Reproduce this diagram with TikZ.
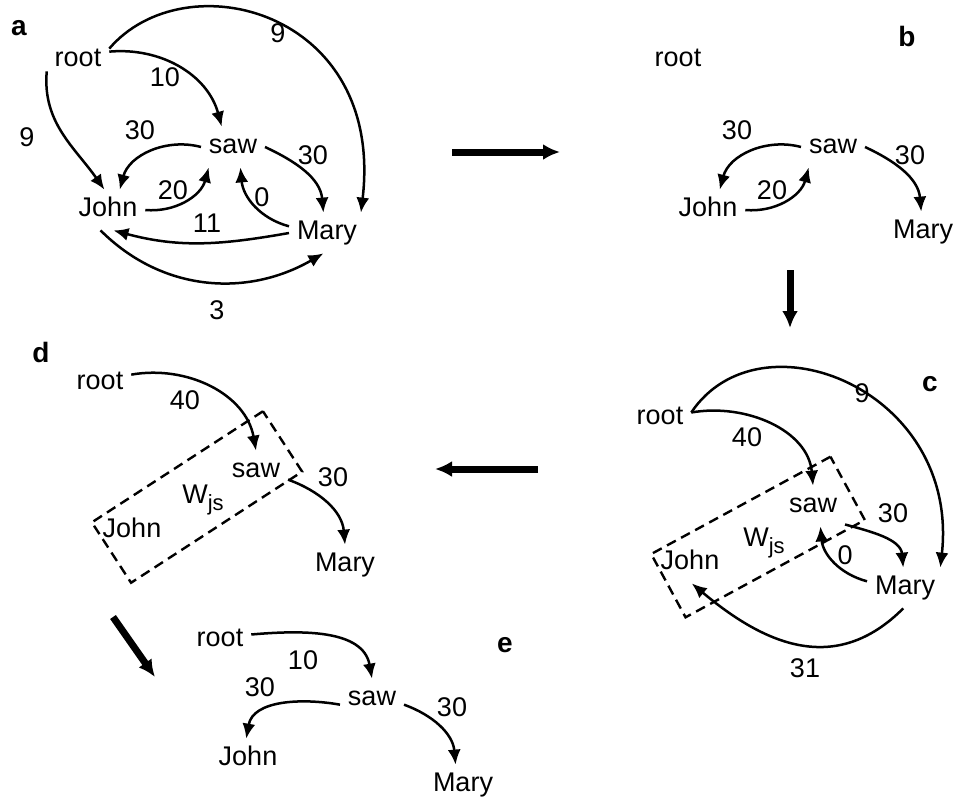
\documentclass[tikz,border=0pt]{standalone}
\usepackage{fontspec}
\setmainfont{Liberation Sans}
\usepackage{tikz}
\usetikzlibrary{arrows.meta}
\newcommand{\wjs}{W\raisebox{-0.55ex}{\fontsize{11}{11}\selectfont js}}
\tikzset{
  word/.style   = {font=\fontsize{13.5}{15}\selectfont, inner sep=1.5pt, outer sep=2.5pt, text height=9.6pt, text depth=2.8pt},
  weight/.style = {font=\fontsize{13.5}{15}\selectfont, inner sep=1pt},
  tag/.style    = {font=\fontsize{14}{15}\selectfont\bfseries, inner sep=0pt},
  dep/.style    = {->, line width=1.25pt},
  wspan/.style  = {draw, dash pattern=on 5pt off 3pt, line width=1.2pt, minimum width=102pt, minimum height=36pt, inner sep=0pt},
  bigstep/.style = {-{Latex[length=8.5pt,width=8pt]}, line width=3.5pt}
}

\begin{document}
\begin{tikzpicture}[x=0.5pt,y=-0.5pt,>={Latex[length=7.5pt,width=6.5pt]}]
  \useasboundingbox (0,0) rectangle (958,798);
  % a
  \node[tag] (tagA) at (19,28) {a};
  \node[word] (rootA) at (78,60) {root};
  \node[word] (sawA) at (233,147) {saw};
  \node[word] (johnA) at (108,210) {John};
  \node[word] (maryA) at (327,233) {Mary};
  \draw[dep] (rootA.15) to[out=5,in=105] (sawA.119);
  \draw[dep] (rootA.20) .. controls (185,-40) and (385,10) .. (maryA.31);
  \draw[dep] (rootA.200) to[out=265,in=125] (johnA.100);
  \draw[dep] (sawA.west) to[out=165,in=75] (johnA.60);
  \draw[dep] (johnA.east) to[out=-5,in=255] (sawA.220);
  \draw[dep] (maryA.170) to[out=165,in=275] (sawA.290);
  \draw[dep] (maryA.west) to[out=190,in=-15] (johnA.285);
  \draw[dep] (sawA.east) to[out=-25,in=95] (maryA.100);
  \draw[dep] (johnA.250) to[out=-45,in=210] (maryA.260);
  \node[weight] (wRootSawA) at (165,77) {10};
  \node[weight] (wRootMaryA) at (278,33) {9};
  \node[weight] (wRootJohnA) at (27,137) {9};
  \node[weight] (wSawJohnA) at (140,130) {30};
  \node[weight] (wJohnSawA) at (173,190) {20};
  \node[weight] (wMarySawA) at (262,197) {0};
  \node[weight] (wMaryJohnA) at (207,223) {11};
  \node[weight] (wSawMaryA) at (313,155) {30};
  \node[weight] (wJohnMaryA) at (217,310) {3};

  % b
  \node[tag] (tagB) at (907,36) {b};
  \node[word] (rootB) at (678,60) {root};
  \node[word] (sawB) at (833,147) {saw};
  \node[word] (johnB) at (708,210) {John};
  \node[word] (maryB) at (923,232) {Mary};
  \draw[dep] (sawB.west) to[out=165,in=75] (johnB.60);
  \draw[dep] (johnB.east) to[out=-5,in=255] (sawB.220);
  \draw[dep] (sawB.east) to[out=-25,in=95] (maryB.95);
  \node[weight] (wSawJohnB) at (737,130) {30};
  \node[weight] (wJohnSawB) at (772,190) {20};
  \node[weight] (wSawMaryB) at (910,155) {30};

  % c
  \node[tag] (tagC) at (930,384) {c};
  \node[word] (rootC) at (660,418) {root};
  \node[word] (sawC) at (813,506) {saw};
  \node[word] (johnC) at (690,563) {John};
  \node[word] (maryC) at (905,588) {Mary};
  \node[weight] (wjsC) at (764,543) {\wjs};
  \node[wspan, rotate=28.5] (spanC) at (758,537) {};
  \draw[dep] (rootC.10) to[out=10,in=95] (sawC.north);
  \draw[dep] (rootC.10) .. controls (760,310) and (960,390) .. (maryC.30);
  \draw[dep] (sawC.-30) to[out=-15,in=95] (maryC.95);
  \draw[dep] (maryC.170) to[out=165,in=275] (sawC.290);
  \draw[dep] (maryC.265) to[out=225,in=-40,looseness=1.15] (johnC.275);
  \node[weight] (wRootSawC) at (747,437) {40};
  \node[weight] (wRootMaryC) at (862,393) {9};
  \node[weight] (wSawMaryC) at (893,513) {30};
  \node[weight] (wMarySawC) at (845,555) {0};
  \node[weight] (wMaryJohnC) at (805,668) {31};

  % d
  \node[tag] (tagD) at (41,352) {d};
  \node[word] (rootD) at (100,383) {root};
  \node[word] (sawD) at (256,471) {saw};
  \node[word] (johnD) at (132,531) {John};
  \node[word] (maryD) at (345,565) {Mary};
  \node[weight] (wjsD) at (203,500) {\wjs};
  \node[wspan, rotate=33] (spanD) at (197,497) {};
  \draw[dep] (rootD.15) to[out=10,in=100] (sawD.north);
  \draw[dep] (sawD.-15) to[out=-20,in=95] (maryD.north);
  \node[weight] (wRootSawD) at (185,400) {40};
  \node[weight] (wSawMaryD) at (333,477) {30};

  % e
  \node[tag] (tagE) at (505,645) {e};
  \node[word] (rootE) at (220,640) {root};
  \node[word] (sawE) at (372,699) {saw};
  \node[word] (johnE) at (248,759) {John};
  \node[word] (maryE) at (463,785) {Mary};
  \draw[dep] (rootE.10) to[out=5,in=100] (sawE.north);
  \draw[dep] (sawE.190) to[out=170,in=80] (johnE.95);
  \draw[dep] (sawE.-10) to[out=-20,in=95] (maryE.110);
  \node[weight] (wRootSawE) at (303,660) {10};
  \node[weight] (wSawJohnE) at (260,687) {30};
  \node[weight] (wSawMaryE) at (452,707) {30};

  % steps between panels
  \coordinate (ab1) at (452,152);
  \coordinate (ab2) at (560,152);
  \coordinate (bc1) at (790,270);
  \coordinate (bc2) at (790,328);
  \coordinate (cd1) at (538,469);
  \coordinate (cd2) at (435,469);
  \coordinate (de1) at (113,617);
  \coordinate (de2) at (155,677);
  \draw[bigstep] (ab1) -- (ab2);
  \draw[bigstep] (bc1) -- (bc2);
  \draw[bigstep] (cd1) -- (cd2);
  \draw[bigstep] (de1) -- (de2);
\end{tikzpicture}
\end{document}
